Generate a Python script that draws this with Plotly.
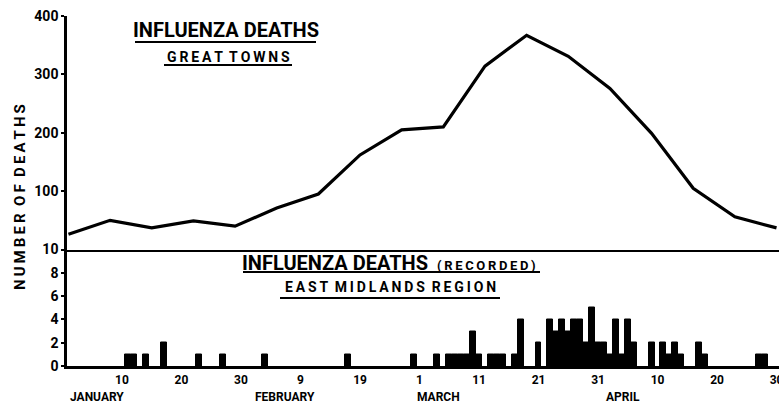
import plotly.graph_objects as go
import pandas as pd

# ---------------- data ----------------
week_dates = ["1951-01-01", "1951-01-08", "1951-01-15", "1951-01-22", "1951-01-29",
              "1951-02-05", "1951-02-12", "1951-02-19", "1951-02-26", "1951-03-05",
              "1951-03-12", "1951-03-19", "1951-03-26", "1951-04-02", "1951-04-09",
              "1951-04-16", "1951-04-23", "1951-04-30"]
great_towns_deaths = [26, 50, 37, 49, 40, 71, 95, 162, 205, 210,
                      314, 367, 331, 276, 199, 105, 56, 37]

day_dates = ["1951-01-11", "1951-01-12", "1951-01-14", "1951-01-17", "1951-01-23",
             "1951-01-27", "1951-02-03", "1951-02-17", "1951-02-28", "1951-03-04",
             "1951-03-06", "1951-03-07", "1951-03-08", "1951-03-09", "1951-03-10",
             "1951-03-11", "1951-03-13", "1951-03-14", "1951-03-15", "1951-03-17",
             "1951-03-18", "1951-03-21", "1951-03-23", "1951-03-24", "1951-03-25",
             "1951-03-26", "1951-03-27", "1951-03-28", "1951-03-29", "1951-03-30",
             "1951-03-31", "1951-04-01", "1951-04-02", "1951-04-03", "1951-04-04",
             "1951-04-05", "1951-04-06", "1951-04-09", "1951-04-11", "1951-04-12",
             "1951-04-13", "1951-04-14", "1951-04-17", "1951-04-18", "1951-04-27",
             "1951-04-28"]
east_midlands_deaths = [1, 1, 1, 2, 1,
                        1, 1, 1, 1, 1,
                        1, 1, 1, 1, 3,
                        1, 1, 1, 1, 1,
                        4, 2, 4, 3, 4,
                        3, 4, 4, 2, 5,
                        2, 2, 1, 4, 1,
                        4, 2, 2, 2, 1,
                        2, 1, 2, 1, 1,
                        1]

x_tick_dates = ["1951-01-10", "1951-01-20", "1951-01-30", "1951-02-09", "1951-02-19",
                "1951-03-01", "1951-03-11", "1951-03-21", "1951-03-31", "1951-04-10",
                "1951-04-20", "1951-04-30"]
x_tick_labels = ["10", "20", "30", "9", "19", "1", "11", "21", "31", "10", "20", "30"]

month_labels = ["JANUARY", "FEBRUARY", "MARCH", "APRIL"]
month_label_dates = ["1951-01-01", "1951-02-01", "1951-02-28T06:00", "1951-04-01"]

top_ticks = [100, 200, 300, 400]
bottom_ticks = [0, 2, 4, 6, 8, 10]

# ---------------- layout helpers ----------------
W, H = 779, 403
L, R, T, B = 67, 0, 16, 37
PW, PH = W - L - R, H - T - B


def px(x):
    return (x - L) / PW


def py(y):
    return (H - B - y) / PH


split = (H - B - 249.5) / PH
FONT = "Roboto, 'Liberation Sans', sans-serif"

x_range = [pd.Timestamp("1951-01-01") - pd.Timedelta(hours=5.9),
           pd.Timestamp("1951-04-30") + pd.Timedelta(hours=10)]

fig = go.Figure()
fig.add_trace(go.Bar(
    x=day_dates, y=east_midlands_deaths, xaxis="x", yaxis="y",
    width=86400000,
    marker=dict(color="black", line=dict(color="black", width=1)),
    showlegend=False, hoverinfo="skip"))
fig.add_trace(go.Scatter(
    x=week_dates, y=great_towns_deaths, xaxis="x2", yaxis="y2",
    mode="lines", line=dict(color="black", width=3.2),
    showlegend=False, hoverinfo="skip"))

tickfont = dict(family=FONT, size=14, color="black", weight="bold")

fig.update_layout(
    width=W, height=H,
    margin=dict(l=L, r=R, t=T, b=B, autoexpand=False),
    paper_bgcolor="white", plot_bgcolor="white",
    bargap=0,
    xaxis=dict(domain=[0, 1], anchor="y", type="date", range=x_range,
               tickmode="array", tickvals=x_tick_dates, ticktext=x_tick_labels,
               showline=True, linecolor="black", linewidth=2.5,
               ticks="", showgrid=False, zeroline=False, automargin=False,
               ticklabeloverflow="allow",
               tickfont=dict(family=FONT, size=12, color="black", weight="bold"),
               ticklabelstandoff=1),
    xaxis2=dict(domain=[0, 1], anchor="y2", type="date", range=x_range, matches="x",
                showticklabels=False, showline=True, linecolor="black", linewidth=1.6,
                ticks="", showgrid=False, zeroline=False, automargin=False),
    yaxis=dict(domain=[0, split], anchor="x", range=[0, 10],
               tickmode="array", tickvals=bottom_ticks,
               showline=True, linecolor="black", linewidth=2.5,
               ticks="outside", ticklen=3, tickwidth=1.5, tickcolor="black",
               showgrid=False, zeroline=False, tickfont=tickfont, automargin=False),
    yaxis2=dict(domain=[split, 1], anchor="x2", range=[0, 400],
                tickmode="array", tickvals=top_ticks,
                showline=True, linecolor="black", linewidth=2.5,
                ticks="outside", ticklen=3, tickwidth=1.5, tickcolor="black",
                showgrid=False, zeroline=False, tickfont=tickfont, automargin=False),
)

ann = []
shapes = []


def title(text, cx, cy, size, x0=None, x1=None, uy=None):
    ann.append(dict(text=text, x=px(cx), y=py(cy), xref="paper", yref="paper",
                    xanchor="center", yanchor="middle", showarrow=False,
                    font=dict(family=FONT, size=size, color="black", weight="bold")))
    if x0 is not None:
        shapes.append(dict(type="line", xref="paper", yref="paper",
                           x0=px(x0), x1=px(x1), y0=py(uy), y1=py(uy),
                           line=dict(color="black", width=2)))


sp = "\u2009"


def spaced(s):
    return "  ".join(sp.join(list(w)) for w in s.split(" "))


title("INFLUENZA DEATHS", 225.5, 30, 20, 135, 316, 42)
title(spaced("GREAT TOWNS"), 228, 57, 14, 164, 292, 65)
title("INFLUENZA DEATHS", 335, 263, 20)
title(spaced("(RECORDED)"), 486, 265, 13)
shapes.append(dict(type="line", xref="paper", yref="paper", x0=px(243), x1=px(540),
                   y0=py(272), y1=py(272), line=dict(color="black", width=2)))
title(spaced("EAST MIDLANDS REGION"), 390, 287, 14, 280, 500, 298)

ann.append(dict(text=spaced("NUMBER OF DEATHS"), x=px(20), y=py(197), xref="paper", yref="paper",
                xanchor="center", yanchor="middle", textangle=-90, showarrow=False,
                font=dict(family=FONT, size=15, color="black", weight="bold")))

for lab, d in zip(month_labels, month_label_dates):
    ann.append(dict(text=lab, x=d, xref="x", y=py(396.5), yref="paper",
                    xanchor="left", yanchor="middle", showarrow=False,
                    font=dict(family=FONT, size=12, color="black", weight="bold")))

fig.update_layout(annotations=ann, shapes=shapes)
fig.write_html("out.html", config={"displayModeBar": False},
               post_script="document.body.style.margin='0';document.body.style.padding='0';")
